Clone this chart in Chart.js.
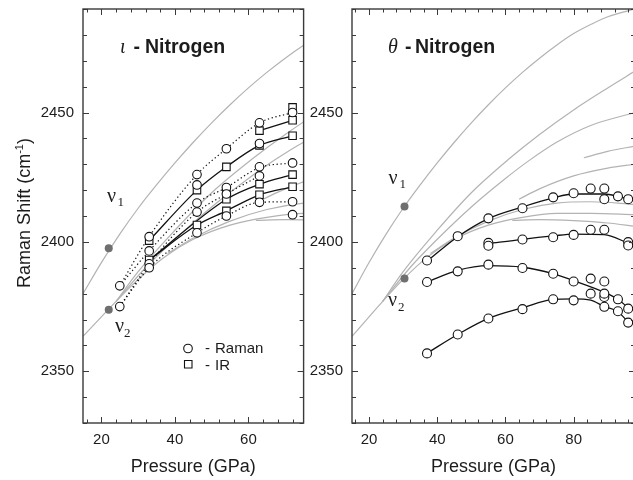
<!DOCTYPE html>
<html><head><meta charset="utf-8">
<script src="https://cdn.jsdelivr.net/npm/chart.js@4.4.1/dist/chart.umd.min.js"></script>
<style>
html,body{margin:0;padding:0;background:#fff;overflow:hidden;width:633px;height:480px;position:relative}
canvas{position:absolute;top:0}
#cl{left:0}
#cr{left:310px}
</style></head><body>
<canvas id="cl" width="310" height="480" style="width:310px;height:480px"></canvas>
<canvas id="cr" width="340" height="480" style="width:340px;height:480px"></canvas>
<script>
// ---------- tick labels ----------
const yTickVals = [2350, 2400, 2450];
const xTickValsL = [20, 40, 60];
const xTickValsR = [20, 40, 60, 80];

// ---------- theory curves (grey, shared by both panels) ----------
const nu1P = [15,20,25,30,35,40,45,50,55,60,65,70,75,80,85,90,98];
const nu1V = [2380,2392,2403,2413,2422,2430.5,2438.5,2446,2453,2459.5,2465.5,2471,2476,2480.5,2484,2487,2490];
const nu2P = [15,20,24,30,37,45,55,65,75,85,98];
const nu2V = [2363.5,2371,2377,2385.5,2394,2401,2406.5,2409.5,2411,2411,2410.5];
const bP = [24,30,40,50,61,70,80,90,98];
const bV = [2377,2388.5,2404.5,2419,2432,2441.5,2451,2459.5,2466];
const cP = [24,32,40,50,60,67,75,85,98];
const cV = [2377,2390,2401,2413.5,2424.5,2431.5,2438.5,2445,2450];
const dP = [83,90,98];
const dV = [2432.5,2435,2437];
const fP = [64,70,80,90,98];
const fV = [2416.5,2420.5,2425.5,2428.5,2430];
const gP = [38,45,55,65,75,85,98];
const gV = [2395.5,2401.5,2408,2412.5,2415,2415.5,2414.5];
const hP = [62,70,80,90,98];
const hV = [2408.3,2408.6,2408.2,2407.3,2406];

// ---------- iota panel ----------
const L_dotP = [22, 22];
const L_dotV = [2397.5, 2373.8];
const L_ramanP = [25,25,33,33,33,33,46,46,46,46,46,54,54,54,54,63,63,63,63,63,72,72,72,72];
const L_ramanV = [2383,2375,2402,2396.5,2391.5,2390,2426,2422,2415,2411.5,2403.5,2436,2421,2418.5,2410,2446,2438,2429,2425.5,2415.3,2450,2430.5,2415.5,2410.5];
const L_irP = [33,33,46,46,54,54,54,54,63,63,63,63,72,72,72,72,72];
const L_irV = [2400.5,2393,2420,2406.5,2429,2419.5,2416.5,2412,2443,2437.3,2422.3,2418.2,2452,2447,2441,2426,2421.3];
const L_aP = [33,46,54,63,72];       const L_aV = [2400.5,2420,2429,2437.3,2441];
const L_bP = [63,72];                const L_bV = [2443,2447];
const L_cP = [33,54,63,72];          const L_cV = [2393,2416.5,2422.3,2426];
const L_dP = [33,46,54,63,72];       const L_dV = [2393,2406.5,2412,2418.2,2421.3];
const L_eP = [25,33,46,54,63,72];    const L_eV = [2383,2402,2426,2436,2446,2450];
const L_fP = [25,33,46,54,63,72];    const L_fV = [2383,2396.5,2415,2421,2428.7,2430.5];
const L_gP = [25,33,46,54,63];       const L_gV = [2375,2391.5,2411.5,2418.5,2425.5];
const L_hP = [25,33,46,54,63,72];    const L_hV = [2375,2390,2403.5,2410,2415.3,2415.5];

// ---------- theta panel ----------
const R_dotP = [30.4, 30.4];
const R_dotV = [2413.7, 2385.8];
const R_u1P = [37,46,55,65,74,80,85,89,89,93,96];
const R_u1V = [2392.8,2402.2,2409.1,2413,2417.2,2418.8,2420.6,2420.6,2416.5,2417.6,2416.5];
const R_u2P = [55,55,65,74,80,85,89,96,96];
const R_u2V = [2399.6,2398.5,2400.9,2401.8,2402.7,2404.7,2404.7,2399.9,2398.6];
const R_mP = [37,46,55,65,74,80,85,89,89,93,96];
const R_mV = [2384.5,2388.6,2391.2,2389.9,2387.7,2384.7,2385.8,2384.7,2380,2377.8,2374.2];
const R_lP = [37,46,55,65,74,80,85,89,89,93,96];
const R_lV = [2356.9,2364.2,2370.4,2374,2377.8,2377.4,2380,2378.7,2374.9,2373.2,2368.8];
const R_fu1P = [37,46,55,65,74,80,89,93,96];  const R_fu1V = [2392.5,2402,2409,2413.5,2417,2418.5,2418.5,2417.6,2416.5];
const R_fu2P = [55,65,74,80,89,96];           const R_fu2V = [2399.3,2401,2402.3,2403,2402.8,2399.5];
const R_fmP = [37,46,55,65,74,80,89,93,96];   const R_fmV = [2384.5,2389,2390.8,2390.2,2387.7,2385,2380.5,2377.8,2374.5];
const R_flP = [37,46,55,65,74,80,85,89,93,96];const R_flV = [2357,2364.2,2370.4,2374.5,2377.8,2378,2377.5,2375,2373,2369];

// ---------- helpers ----------
const SANS = "'Liberation Sans', Arial, Helvetica, sans-serif";
const SERIF = "'Liberation Serif', 'Times New Roman', serif";
const TXT = '#1c1c1c';
const pts = (P, V) => P.map((x, i) => ({x, y: V[i]}));
const grayDs = (P, V) => ({type:'line', data:pts(P,V), borderColor:'#b3b3b3', borderWidth:1.2, pointRadius:0, cubicInterpolationMode:'monotone', fill:false, order:4});
const fitDs = (P, V, dotted) => ({type:'line', data:pts(P,V), borderColor:'#111', borderWidth: dotted ? 1.2 : 1.3, borderDash: dotted ? [1.3, 2.6] : [], pointRadius:0, cubicInterpolationMode:'monotone', fill:false, order:2});
const markDs = (P, V, style, r) => ({type:'scatter', data:pts(P,V), showLine:false, pointStyle:style, pointRadius:r, pointBackgroundColor:'#fff', pointBorderColor:'#111', pointBorderWidth:1.1, order:0});
const dotDs = (P, V) => ({type:'scatter', data:pts(P,V), showLine:false, pointStyle:'circle', pointRadius:4, pointBackgroundColor:'#6f6f6f', pointBorderColor:'#6f6f6f', pointBorderWidth:0, order:3});
const grayAll = () => [grayDs(nu1P,nu1V), grayDs(nu2P,nu2V), grayDs(bP,bV), grayDs(cP,cV), grayDs(dP,dV), grayDs(fP,fV), grayDs(gP,gV), grayDs(hP,hV)];

function zeroPad(s){ s.paddingTop = 0; s.paddingBottom = 0; s.paddingLeft = 0; s.paddingRight = 0; }
function makeScales(xmin, xmax, xt, yWidth){
  return {
    x: {type:'linear', min:xmin, max:xmax, grid:{display:false, drawTicks:false}, border:{display:false},
        afterBuildTicks: s => { s.ticks = xt.map(v => ({value:v})); },
        afterFit: s => { s.height = 57; zeroPad(s); },
        ticks:{padding:8, color:TXT, font:{family:SANS, size:15}, maxRotation:0, autoSkip:false, callback: v => String(v)},
        title:{display:true, text:'Pressure (GPa)', color:TXT, font:{family:SANS, size:18}, padding:{top:0, bottom:2}}},
    y: {type:'linear', min:2330, max:2490, grid:{display:false, drawTicks:false}, border:{display:false},
        afterBuildTicks: s => { s.ticks = yTickVals.map(v => ({value:v})); },
        afterFit: s => { s.width = yWidth; zeroPad(s); },
        ticks:{padding:9, color:TXT, font:{family:SANS, size:15}, autoSkip:false, callback: v => String(v)}}
  };
}

const frameTicks = {
  id:'frameTicks',
  afterDraw(chart){
    const {ctx, chartArea:a, scales:{x, y}} = chart;
    ctx.save();
    ctx.strokeStyle = '#3a3a3a'; ctx.lineWidth = 1;
    ctx.beginPath();
    for (let v = Math.ceil(x.min/4)*4; v <= x.max; v += 4){
      const p = Math.round(x.getPixelForValue(v)) + 0.5, L = v % 20 === 0 ? 6 : 3.5;
      ctx.moveTo(p, a.bottom); ctx.lineTo(p, a.bottom - L);
      ctx.moveTo(p, a.top); ctx.lineTo(p, a.top + L);
    }
    for (let v = y.min; v <= y.max; v += 10){
      const p = Math.round(y.getPixelForValue(v)) + 0.5, L = v % 50 === 0 ? 6 : 4;
      ctx.moveTo(a.left, p); ctx.lineTo(a.left + L, p);
      ctx.moveTo(a.right, p); ctx.lineTo(a.right - L, p);
    }
    ctx.stroke();
    ctx.lineWidth = 1.4;
    ctx.strokeRect(a.left, a.top, a.right - a.left, a.bottom - a.top);
    ctx.restore();
  }
};

const annot = {
  id:'annot',
  afterDraw(chart, args, o){
    const ctx = chart.ctx;
    ctx.save();
    ctx.fillStyle = TXT; ctx.textBaseline = 'alphabetic'; ctx.textAlign = 'left';
    ctx.font = 'italic 20px ' + SERIF; ctx.fillText(o.greek, o.gx, 53);
    ctx.font = 'bold 19.5px ' + SANS; ctx.fillText('-', o.hx, 53); ctx.fillText('Nitrogen', o.nx, 53);
    for (const n of o.nus){
      ctx.font = '20px ' + SERIF; ctx.fillText('\u03BD', n.x, n.y);
      ctx.font = '13px ' + SERIF; ctx.fillText(n.s, n.sx, n.sy);
    }
    if (o.legend){
      ctx.font = '15px ' + SANS;
      ctx.fillText('-', 205, 353); ctx.fillText('Raman', 215, 353);
      ctx.fillText('-', 205, 369.5); ctx.fillText('IR', 215, 369.5);
      ctx.strokeStyle = '#111'; ctx.lineWidth = 1.1; ctx.fillStyle = '#fff';
      ctx.beginPath(); ctx.arc(188, 348.5, 4.3, 0, Math.PI*2); ctx.fill(); ctx.stroke();
      ctx.beginPath(); ctx.rect(184.5, 360.5, 7.5, 7.5); ctx.fill(); ctx.stroke();
      ctx.fillStyle = TXT;
    }
    if (o.ytitle){
      ctx.translate(30, 213); ctx.rotate(-Math.PI/2);
      ctx.font = '18px ' + SANS;
      const a = 'Raman Shift (cm', b = '-1', c = ')';
      const wa = ctx.measureText(a).width, wc = ctx.measureText(c).width;
      ctx.font = '11px ' + SANS; const wb = ctx.measureText(b).width;
      let x0 = -(wa + wb + wc) / 2;
      ctx.font = '18px ' + SANS; ctx.fillText(a, x0, 0);
      ctx.font = '11px ' + SANS; ctx.fillText(b, x0 + wa, -7);
      ctx.font = '18px ' + SANS; ctx.fillText(c, x0 + wa + wb, 0);
    }
    ctx.restore();
  }
};

const baseOpts = (xmin, xmax, xt, yWidth, padRight, ann) => ({
  responsive:false, animation:false, devicePixelRatio:1, events:[],
  layout:{padding:{left:0, right:padRight, top:9, bottom:0}},
  plugins:{legend:{display:false}, tooltip:{enabled:false}, annot:ann},
  scales: makeScales(xmin, xmax, xt, yWidth)
});

new Chart(document.getElementById('cl'), {
  type:'scatter',
  data:{datasets:[
    markDs(L_ramanP, L_ramanV, 'circle', 4.3),
    markDs(L_irP, L_irV, 'rect', 5.3),
    fitDs(L_aP, L_aV, false), fitDs(L_bP, L_bV, false), fitDs(L_cP, L_cV, false), fitDs(L_dP, L_dV, false),
    fitDs(L_eP, L_eV, true), fitDs(L_fP, L_fV, true), fitDs(L_gP, L_gV, true), fitDs(L_hP, L_hV, true),
    dotDs(L_dotP, L_dotV),
    ...grayAll()
  ]},
  options: baseOpts(15, 75, xTickValsL, 83, 4, {
    greek:'\u03B9', gx:120, hx:133.5, nx:145, legend:true, ytitle:true,
    nus:[{x:107, y:202, s:'1', sx:117.5, sy:205.5}, {x:115, y:332, s:'2', sx:124, sy:336.5}]
  }),
  plugins:[frameTicks, annot]
});

new Chart(document.getElementById('cr'), {
  type:'scatter',
  data:{datasets:[
    markDs(R_u1P, R_u1V, 'circle', 4.5), markDs(R_u2P, R_u2V, 'circle', 4.5),
    markDs(R_mP, R_mV, 'circle', 4.5), markDs(R_lP, R_lV, 'circle', 4.5),
    fitDs(R_fu1P, R_fu1V, false), fitDs(R_fu2P, R_fu2V, false), fitDs(R_fmP, R_fmV, false), fitDs(R_flP, R_flV, false),
    dotDs(R_dotP, R_dotV),
    ...grayAll()
  ]},
  options: baseOpts(15, 98, xTickValsR, 42, 15, {
    greek:'\u03B8', gx:78, hx:95, nx:105, legend:false, ytitle:false,
    nus:[{x:78.5, y:184, s:'1', sx:89.5, sy:188}, {x:78, y:306, s:'2', sx:88, sy:311}]
  }),
  plugins:[frameTicks, annot]
});
</script></body></html>
